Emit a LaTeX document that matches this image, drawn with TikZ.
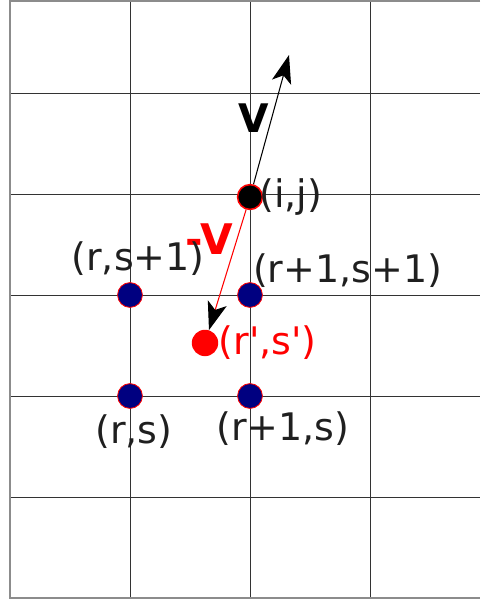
\documentclass[tikz,border=0pt]{standalone}
\usepackage{fontspec}
\setmainfont{DejaVu Sans}
\usetikzlibrary{arrows.meta,positioning}
\definecolor{gridblue}{RGB}{0,0,128}

\begin{document}
\begin{tikzpicture}[
    x=3cm, y=2.525cm,
    grid line/.style={
        draw=black!80,
        line width=0.7pt
    },
    grid border/.style={
        draw=black!45,
        line width=1.8pt
    },
    grid point/.style={
        circle,
        inner sep=0pt,
        minimum size=0.62cm,
        fill=gridblue,
        draw=red,
        line width=0.6pt
    },
    source point/.style={
        grid point,
        fill=black,
        line width=1.1pt
    },
    target point/.style={
        circle,
        inner sep=0pt,
        minimum size=0.66cm,
        fill=red
    },
    pt label/.style={
        font=\fontsize{27}{32}\selectfont,
        text=black!88,
        inner sep=0pt
    },
    vec label/.style={
        font=\fontsize{30}{36}\selectfont\bfseries,
        inner sep=0pt
    },
    vec/.style={
        -{Stealth[length=20pt,width=14pt,inset=5pt,color=black]},
        line width=0.75pt
    }
]
    \useasboundingbox (-0.0833,-0.0495) rectangle (3.9167,5.9208);

    % Gitter
    \foreach \col in {1,2,3} {
        \draw[grid line] (\col,0) -- (\col,5.911);
    }
    \foreach \row in {1,...,5} {
        \draw[grid line] (0,\row) -- (3.9167,\row);
    }
    \draw[grid border] (3.9167,5.911) -- (0,5.911) -- (0,0) -- (3.9167,0);

    % Gitterpunkte um (r',s')
    \node[grid point] (rs) at (1,2) {};
    \node[grid point] (r1s) at (2,2) {};
    \node[grid point] (rs1) at (1,3) {};
    \node[grid point] (r1s1) at (2,3) {};

    \node[source point] (ij) at (2,3.97) {};
    \node[target point] (rp) at (1.625,2.525) {};
    \coordinate (vtip) at (2.325,5.376);

    % Vektoren V und -V
    \draw[vec, draw=black] (ij) -- (vtip);
    \draw[vec, draw=red] (ij) -- (rp);

    \node[vec label, font=\fontsize{28}{34}\selectfont\bfseries] (vlbl)
        at (2.029,4.752) {V};
    \node[vec label, text=red] (mvlbl) at (1.6625,3.554) {-V};

    % Beschriftungen
    \node[pt label, right=-3pt of ij] (ijlbl) {(i,j)};
    \node[pt label, text=red, right=0pt of rp] (rplbl)
        {(r\textquotesingle,s\textquotesingle)};
    \node[pt label] (rs1lbl) at (1.067,3.356) {(r,s+1)};
    \node[pt label] (r1s1lbl) at (2.8125,3.238) {(r+1,s+1)};
    \node[pt label] (rslbl) at (1.033,1.644) {(r,s)};
    \node[pt label] (r1slbl) at (2.275,1.673) {(r+1,s)};
\end{tikzpicture}
\end{document}
